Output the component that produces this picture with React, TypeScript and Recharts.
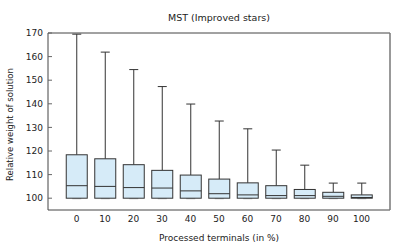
import { ComposedChart, Bar, XAxis, YAxis, ReferenceLine } from "recharts";

const categories = ["0", "10", "20", "30", "40", "50", "60", "70", "80", "90", "100"];
const lowWhisker = [100, 100, 100, 100, 100, 100, 100, 100, 100, 100, 100];
const lowerQuartile = [100, 100, 100, 100, 100, 100, 100, 100, 100, 100, 100];
const medians = [105.3, 105.0, 104.5, 104.3, 103.1, 101.9, 101.4, 101.1, 101.1, 100.8, 100.3];
const upperQuartile = [118.4, 116.7, 114.2, 111.8, 109.8, 108.1, 106.5, 105.3, 103.7, 102.5, 101.4];
const highWhisker = [169.5, 161.9, 154.5, 147.3, 139.9, 132.7, 129.4, 120.4, 114.0, 106.4, 106.4];
const yTicks = [100, 110, 120, 130, 140, 150, 160, 170];

const data = categories.map((c, i) => ({
  name: c,
  min: lowWhisker[i],
  q1: lowerQuartile[i],
  median: medians[i],
  q3: upperQuartile[i],
  max: highWhisker[i],
}));

const font = "DejaVu Sans, sans-serif";
const ink = "#333";

function BoxShape(props: any) {
  const { x, y, width, height, payload } = props;
  const k = height / (payload.max - payload.min);
  const py = (v: number) => y + (payload.max - v) * k;
  const cx = x + width / 2;
  const cap = 4.5;
  return (
    <g>
      <line x1={cx} x2={cx} y1={py(payload.max)} y2={py(payload.q3)} stroke={ink} />
      <line x1={cx - cap} x2={cx + cap} y1={py(payload.max)} y2={py(payload.max)} stroke={ink} />
      <line x1={cx - cap} x2={cx + cap} y1={py(payload.min) + 0.5} y2={py(payload.min) + 0.5} stroke="#aaa" />
      <rect
        x={x}
        y={py(payload.q3)}
        width={width}
        height={py(payload.q1) - py(payload.q3)}
        fill="#d6ebf8"
        stroke={ink}
      />
      <line x1={x} x2={x + width} y1={py(payload.median)} y2={py(payload.median)} stroke={ink} />
    </g>
  );
}

function YLabel(props: any) {
  const vb = props.viewBox || {};
  const cx = 10;
  const cy = (vb.y ?? 33) + (vb.height ?? 177) / 2 + 3;
  return (
    <text
      x={cx}
      y={cy}
      transform={`rotate(-90, ${cx}, ${cy})`}
      textAnchor="middle"
      dominantBaseline="central"
      fontSize={8.5}
      fill="#222"
      fontFamily={font}
    >
      Relative weight of solution
    </text>
  );
}

export default function App() {
  return (
    <div style={{ position: "absolute", left: 0, top: 0, width: 407, height: 244, background: "#fff" }}>
      <div
        style={{
          position: "absolute",
          left: 48,
          width: 342,
          top: 12,
          textAlign: "center",
          fontFamily: font,
          fontSize: 9.5,
          color: "#222",
        }}
      >
        MST (Improved stars)
      </div>
      <ComposedChart
        width={407}
        height={244}
        data={data}
        margin={{ top: 33, right: 0, bottom: 0, left: 0 }}
        style={{ fontFamily: font }}
      >
        <XAxis
          dataKey="name"
          height={34}
          padding={{ left: 14.25, right: 14.25 }}
          tickLine={false}
          tickSize={0}
          tickMargin={6}
          axisLine={{ stroke: "#444" }}
          tick={{ fontSize: 9, fill: "#222" }}
          interval={0}
          label={{ value: "Processed terminals (in %)", position: "insideBottom", offset: 3, fontSize: 9, fill: "#222" }}
        />
        <YAxis
          width={48}
          domain={[95, 170]}
          ticks={yTicks}
          tickSize={-4}
          tickMargin={9}
          axisLine={{ stroke: "#444" }}
          tickLine={{ stroke: "#666" }}
          tick={{ fontSize: 9, fill: "#222" }}
          label={<YLabel />}
        />
        <YAxis
          yAxisId="right"
          orientation="right"
          width={17}
          domain={[95, 170]}
          ticks={yTicks}
          tick={false}
          tickSize={-4}
          axisLine={{ stroke: "#777", strokeWidth: 1.5 }}
          tickLine={{ stroke: "#666" }}
        />
        <ReferenceLine y={170} stroke="#444" />
        <Bar
          dataKey={(d: any) => [d.min, d.max]}
          barSize={21}
          shape={BoxShape}
          isAnimationActive={false}
        />
      </ComposedChart>
    </div>
  );
}
